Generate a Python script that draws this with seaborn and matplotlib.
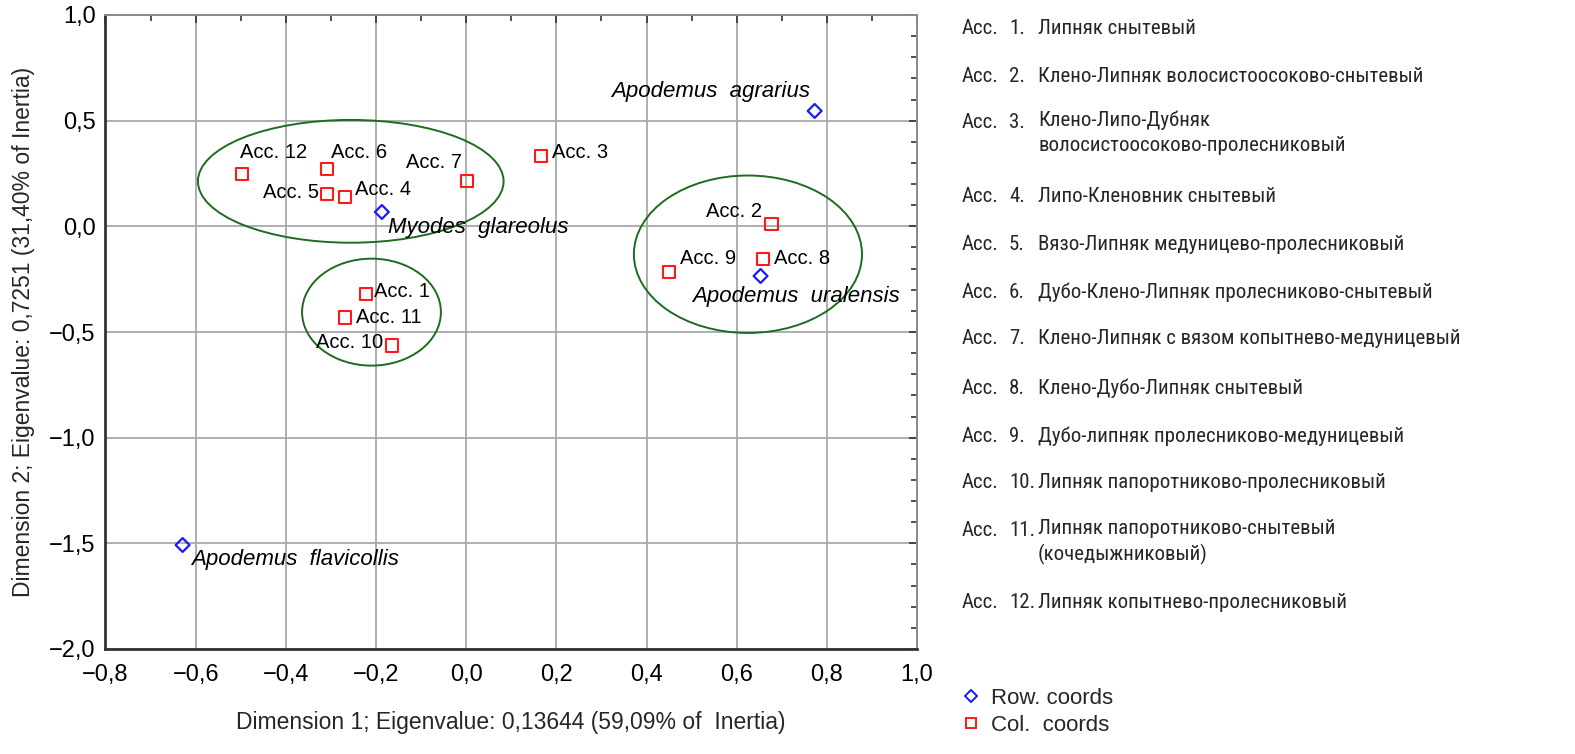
import matplotlib
matplotlib.use("Agg")
import matplotlib.pyplot as plt
import matplotlib.ticker as mticker
import matplotlib.font_manager as fm
from matplotlib.patches import Ellipse
from matplotlib.lines import Line2D
import pandas as pd
import seaborn as sns

# ================================================================
# DATA
# ================================================================
acc_labels = ["Acc. 1", "Acc. 2", "Acc. 3", "Acc. 4", "Acc. 5", "Acc. 6",
              "Acc. 7", "Acc. 8", "Acc. 9", "Acc. 10", "Acc. 11", "Acc. 12"]
acc_x = [-0.222, 0.677, 0.166, -0.269, -0.309, -0.309,
         0.002, 0.658, 0.450, -0.165, -0.269, -0.497]
acc_y = [-0.319, 0.012, 0.334, 0.140, 0.154, 0.272,
         0.215, -0.155, -0.217, -0.564, -0.431, 0.249]

species = ["Apodemus  agrarius", "Myodes  glareolus",
           "Apodemus  uralensis", "Apodemus  flavicollis"]
species_x = [0.773, -0.187, 0.653, -0.629]
species_y = [0.546, 0.068, -0.235, -1.508]

# cluster ellipses: centre x, centre y, width, height
ell_cx = [-0.256, -0.210, 0.625]
ell_cy = [0.213, -0.406, -0.132]
ell_w = [0.678, 0.308, 0.506]
ell_h = [0.581, 0.506, 0.745]

list_nums = ["1.", "2.", "3.", "4.", "5.", "6.", "7.", "8.", "9.", "10.", "11.", "12."]
list_texts = [
    "Липняк снытевый",
    "Клено-Липняк волосистоосоково-снытевый",
    "Клено-Липо-Дубняк\nволосистоосоково-пролесниковый",
    "Липо-Кленовник снытевый",
    "Вязо-Липняк медуницево-пролесниковый",
    "Дубо-Клено-Липняк пролесниково-снытевый",
    "Клено-Липняк с вязом копытнево-медуницевый",
    "Клено-Дубо-Липняк снытевый",
    "Дубо-липняк пролесниково-медуницевый",
    "Липняк папоротниково-пролесниковый",
    "Липняк папоротниково-снытевый\n(кочедыжниковый)",
    "Липняк копытнево-пролесниковый",
]

x_label = "Dimension 1; Eigenvalue: 0,13644 (59,09% of  Inertia)"
y_label = "Dimension 2; Eigenvalue: 0,7251 (31,40% of Inertia)"

# ================================================================
# LABEL OFFSETS (pixels) and alignment
# ================================================================
acc_offsets = [(8, 2, "left"), (-9, 12, "right"), (11, 3, "left"), (10, 7, "left"),
               (-8, 1, "right"), (4, 16, "left"), (-5, 18, "right"), (11, 1, "left"),
               (11, 14, "left"), (-9, 3, "right"), (11, 0, "left"), (-2, 21, "left")]
species_offsets = [(-5, 19, "right"), (6, -16, "left"), (-68, -21, "left"), (9, -14, "left")]


# ================================================================
# UTILS
# ================================================================
def pick_family(cands, default):
    for c in cands:
        try:
            fm.findfont(fm.FontProperties(family=c), fallback_to_default=False)
            return c, True
        except ValueError:
            pass
    return default, False


def comma_fmt(v, pos):
    s = f"{abs(v):.1f}".replace(".", ",")
    return ("\u2212" + s) if v < -1e-9 else s


# ================================================================
# PLOT
# ================================================================
sns.set_theme(style="white")
plt.rcParams["font.family"] = ["Liberation Sans", "DejaVu Sans"]

W, H = 1575, 754
fig = plt.figure(figsize=(W / 100, H / 100), dpi=100)
ax = fig.add_axes([105.5 / W, 1 - 649 / H, (917 - 105.5) / W, (649 - 15) / H])

col_df = pd.DataFrame({"x": acc_x, "y": acc_y, "label": acc_labels})
row_df = pd.DataFrame({"x": species_x, "y": species_y, "label": species})

for cx, cy, w, h in zip(ell_cx, ell_cy, ell_w, ell_h):
    ax.add_patch(Ellipse((cx, cy), w, h, fill=False, edgecolor="#1f6b1f", lw=1.4, zorder=2))

sns.scatterplot(data=row_df, x="x", y="y", marker="D", s=50, facecolors="none",
                edgecolor="#1a1aff", linewidth=1.6, ax=ax, zorder=4)
sns.scatterplot(data=col_df, x="x", y="y", marker="s", s=80, facecolors="none",
                edgecolor="#ff1a1a", linewidth=1.5, ax=ax, zorder=4)

for lab, x, y, (dx, dy, ha) in zip(acc_labels, acc_x, acc_y, acc_offsets):
    ax.annotate(lab, (x, y), xytext=(dx, dy), textcoords="offset pixels",
                ha=ha, va="center", fontsize=14.5, color="black", zorder=5)
for lab, x, y, (dx, dy, ha) in zip(species, species_x, species_y, species_offsets):
    ax.annotate(lab, (x, y), xytext=(dx, dy), textcoords="offset pixels",
                ha=ha, va="center", fontsize=16, style="italic", color="black", zorder=5)

ax.set_xlim(-0.8, 1.0)
ax.set_ylim(-2.0, 1.0)
ax.xaxis.set_major_locator(mticker.MultipleLocator(0.2))
ax.xaxis.set_minor_locator(mticker.MultipleLocator(0.1))
ax.yaxis.set_major_locator(mticker.MultipleLocator(0.5))
ax.yaxis.set_minor_locator(mticker.MultipleLocator(0.1))
ax.xaxis.set_major_formatter(mticker.FuncFormatter(comma_fmt))
ax.yaxis.set_major_formatter(mticker.FuncFormatter(comma_fmt))

ax.tick_params(which="both", direction="in", top=True, right=True, colors="#333333",
               labelcolor="black", labelsize=17)
ax.tick_params(which="major", length=6, width=1.2)
ax.tick_params(axis="x", which="major", pad=11)
ax.tick_params(axis="y", which="major", pad=7)
ax.tick_params(which="minor", length=4, width=1.2)
ax.grid(True, which="major", color="#a8a8a8", lw=1.3)
ax.set_axisbelow(True)

for side in ["left", "bottom"]:
    ax.spines[side].set_color("#333333")
    ax.spines[side].set_linewidth(2)
for side in ["top", "right"]:
    ax.spines[side].set_color("#8a8a8a")
    ax.spines[side].set_linewidth(1.4)

ax.set_xlabel(x_label, fontsize=16.5, labelpad=18)
ax.set_ylabel(y_label, fontsize=16.5, labelpad=10)

# ------------------------------------------------------------
# Association list on the right
# ------------------------------------------------------------
fam, is_narrow = pick_family(["Liberation Sans Narrow", "Roboto Condensed",
                              "Open Sans Condensed", "Noto Sans Condensed",
                              "Arial Narrow"], "Liberation Sans")
list_fs = 15 if is_narrow else 14
row_y = [28, 76, 123, 196, 244, 292, 338, 388, 436, 483, 531, 603]
for num, txt, py in zip(list_nums, list_texts, row_y):
    fy = 1 - py / H
    fig.text(962 / W, fy, "Acc.", ha="left", va="center", fontsize=list_fs, family=fam)
    fig.text(1009 / W, fy, num, ha="left", va="center", fontsize=list_fs, family=fam)
    if "\n" in txt:
        fig.text(1038 / W, fy + 12 / H, txt, ha="left", va="top", fontsize=list_fs,
                 family=fam, linespacing=1.35)
    else:
        fig.text(1038 / W, fy, txt, ha="left", va="center", fontsize=list_fs, family=fam)

# ------------------------------------------------------------
# Legend
# ------------------------------------------------------------
handles = [
    Line2D([], [], ls="none", marker="D", markersize=6, markerfacecolor="none",
           markeredgecolor="#1a1aff", markeredgewidth=1.4),
    Line2D([], [], ls="none", marker="s", markersize=7, markerfacecolor="none",
           markeredgecolor="#ff1a1a", markeredgewidth=1.4),
]
fig.legend(handles, ["Row. coords", "Col.  coords"], loc="center left",
           bbox_to_anchor=(938 / W, 1 - 712 / H), frameon=False, fontsize=16,
           handletextpad=0.3, labelspacing=0.25, handlelength=1.2)

plt.savefig("out.png", dpi=100)
plt.close()
